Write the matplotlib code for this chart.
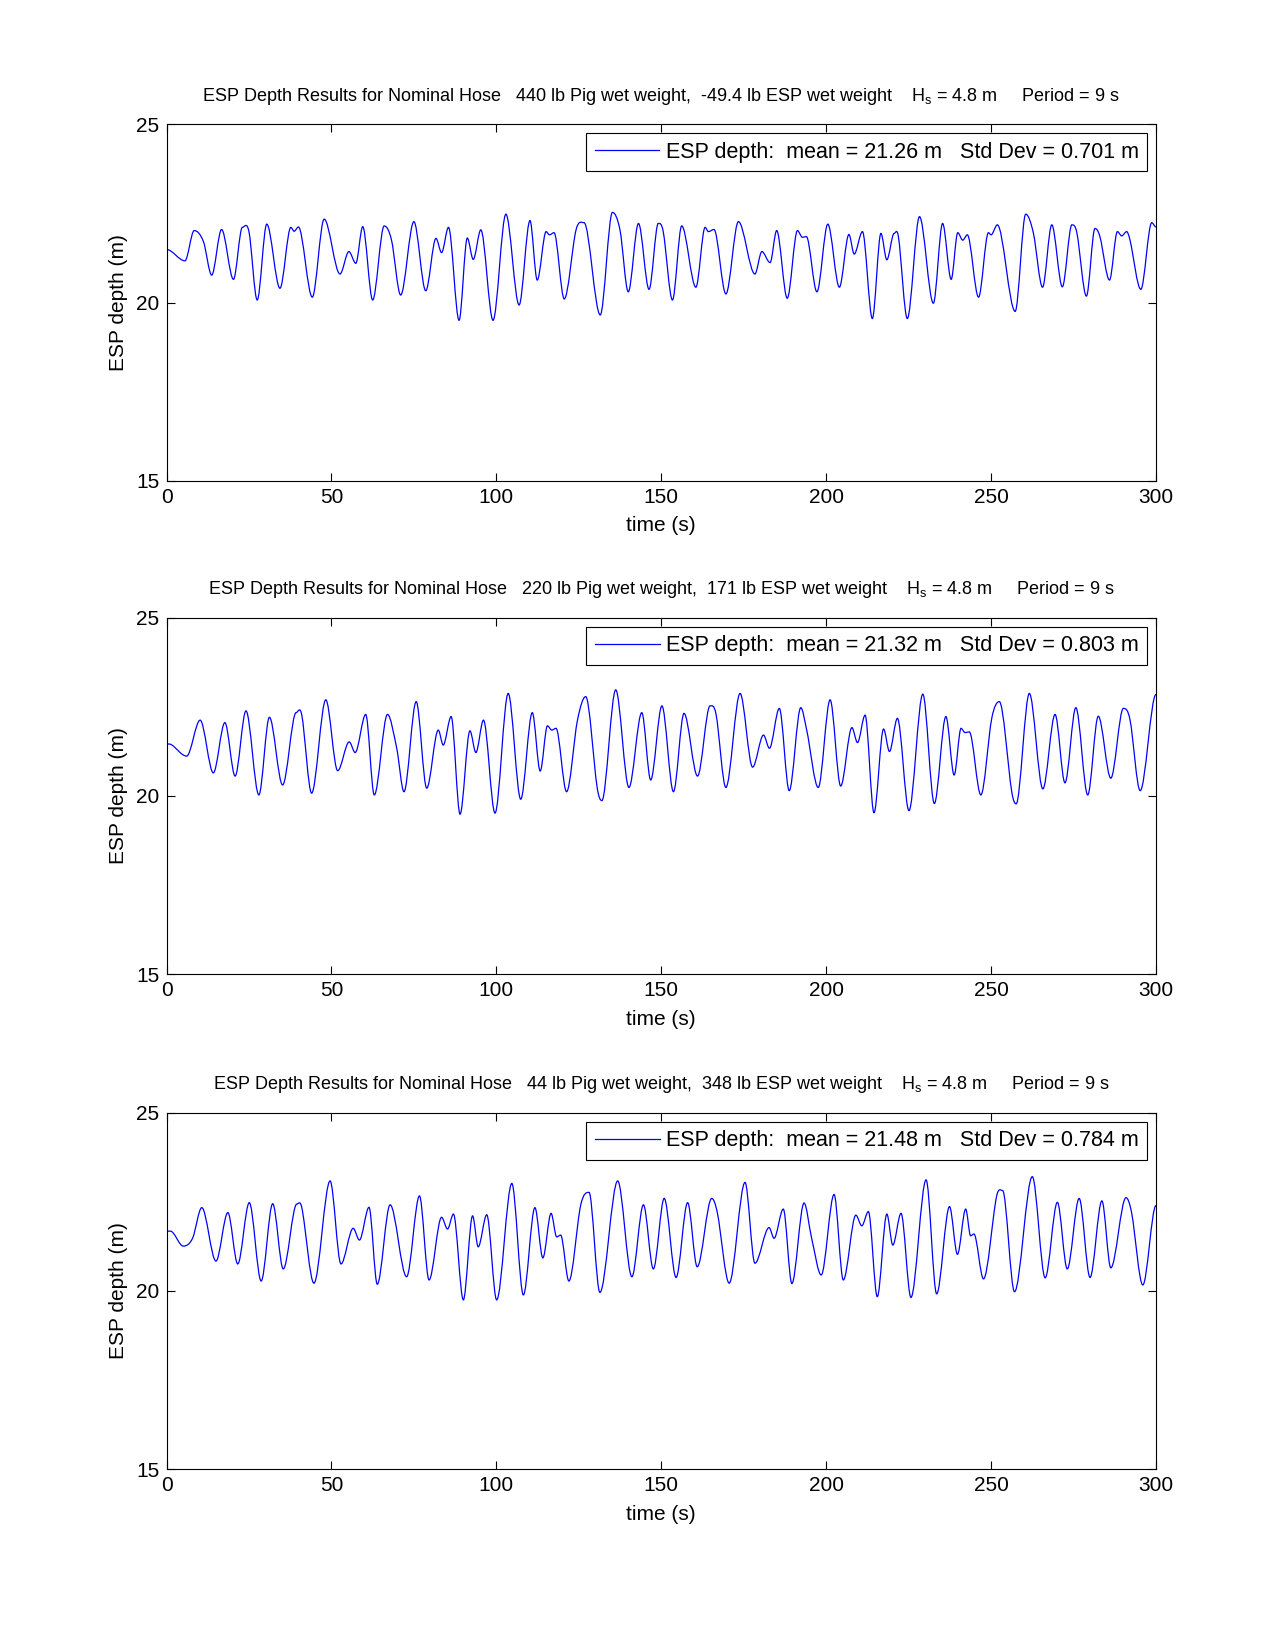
import matplotlib
matplotlib.use("Agg")
import matplotlib.pyplot as plt
import numpy as np
from matplotlib.path import Path
from matplotlib.patches import PathPatch

plt.rcParams['font.family'] = ['Liberation Sans', 'DejaVu Sans']
plt.rcParams['mathtext.default'] = 'regular'

# ---------------- data ----------------
t1 = [0, 5.6, 8.4, 11.2, 13.7, 16.7, 20.3, 23.0, 25.0, 27.5, 30.4, 34.4, 37.7, 38.7, 40.0,
      44.2, 47.8, 52.6, 55.3, 57.4, 59.5, 62.5, 66.0, 68.2, 71.0, 75.0, 78.6, 81.7, 83.4,
      85.5, 88.7, 91.2, 93.0, 95.3, 99.0, 102.9, 106.9, 110.2, 112.4, 115.1, 116.1, 117.5,
      120.6, 124.2, 126.6, 131.5, 135.2, 137.5, 140.0, 143.1, 146.3, 149.1, 150.6, 153.4,
      156.2, 160.5, 163.3, 164.3, 166.0, 169.6, 173.4, 178.4, 180.5, 183.0, 185.0, 188.2,
      191.3, 192.8, 194.0, 197.2, 200.5, 204.0, 206.9, 208.5, 211.0, 214.0, 216.6, 218.4,
      220.6, 221.9, 224.6, 228.3, 232.5, 235.3, 237.9, 239.9, 241.4, 242.8, 246.2, 249.2,
      250.0, 251.9, 257.3, 260.5, 262.8, 265.6, 268.4, 271.6, 274.5, 276.0, 278.9, 281.5,
      283.0, 285.9, 288.3, 289.6, 291.1, 292.1, 295.4, 298.7, 300]
d1 = [21.49, 21.17, 22.02, 21.71, 20.77, 22.05, 20.65, 22.11, 21.99, 20.07, 22.20, 20.40, 22.11, 22.00, 22.12,
      20.15, 22.34, 20.80, 21.43, 21.10, 22.13, 20.07, 22.15, 21.76, 20.21, 22.27, 20.33, 21.80, 21.40,
      22.11, 19.50, 21.81, 21.21, 22.04, 19.50, 22.48, 19.93, 22.30, 20.63, 21.99, 21.90, 21.96,
      20.10, 22.05, 22.24, 19.65, 22.53, 22.03, 20.30, 22.22, 20.37, 22.22, 21.99, 20.07,
      22.15, 20.43, 22.11, 21.99, 22.05, 20.24, 22.27, 20.80, 21.43, 21.12, 22.02, 20.12,
      22.02, 21.83, 21.85, 20.30, 22.20, 20.43, 21.91, 21.36, 21.99, 19.55, 21.94, 21.20,
      21.94, 21.85, 19.55, 22.41, 19.98, 22.22, 20.65, 21.96, 21.75, 21.90, 20.15, 21.96,
      21.90, 22.18, 19.75, 22.48, 21.96, 20.43, 22.18, 20.44, 22.18, 21.96, 20.18, 22.08,
      21.85, 20.63, 21.99, 21.87, 21.99, 21.76, 20.37, 22.24, 22.12]

t2 = [0, 1.5, 6.1, 10.2, 14.2, 17.7, 20.8, 24.1, 28.0, 31.2, 35.2, 39.3, 41.0, 44.0, 48.3,
      51.9, 55.4, 57.2, 60.4, 63.0, 67.0, 69.8, 72.0, 75.7, 78.9, 82.4, 83.9, 86.3, 89.0,
      92.0, 93.8, 96.1, 99.6, 103.6, 107.4, 110.9, 113.3, 115.5, 116.8, 118.1, 121.3, 124.6,
      127.1, 130.6, 132.0, 136.2, 140.2, 144.1, 146.8, 150.2, 153.7, 156.9, 161.0, 164.8,
      166.6, 169.6, 173.9, 177.7, 181.0, 182.8, 185.8, 188.8, 192.3, 194.1, 197.6, 201.2,
      204.4, 207.8, 209.5, 211.8, 214.5, 217.4, 219.2, 221.6, 225.1, 229.3, 232.8, 236.3,
      238.8, 240.9, 242.1, 243.4, 246.9, 250.2, 252.5, 256.3, 257.6, 261.6, 265.7, 269.4,
      272.4, 275.7, 279.3, 282.5, 286.3, 290.1, 292.1, 295.2, 300]
d2 = [21.46, 21.44, 21.12, 22.13, 20.65, 22.06, 20.56, 22.39, 20.03, 22.21, 20.31, 22.34, 22.28, 20.08, 22.70,
      20.71, 21.52, 21.22, 22.29, 20.03, 22.29, 21.34, 20.12, 22.65, 20.22, 21.85, 21.43, 22.23, 19.49,
      21.83, 21.22, 22.13, 19.52, 22.88, 19.91, 22.34, 20.70, 21.97, 21.85, 21.90, 20.12, 22.13,
      22.79, 20.22, 19.87, 22.98, 20.24, 22.34, 20.45, 22.53, 20.12, 22.32, 20.56, 22.53,
      22.30, 20.24, 22.88, 20.81, 21.71, 21.34, 22.46, 20.15, 22.48, 21.85, 20.24, 22.70,
      20.28, 21.92, 21.50, 22.27, 19.53, 21.88, 21.25, 22.18, 19.59, 22.86, 19.79, 22.23,
      20.59, 21.90, 21.78, 21.80, 20.03, 22.18, 22.65, 20.10, 19.78, 22.88, 20.20, 22.29,
      20.37, 22.48, 20.03, 22.24, 20.50, 22.46, 22.15, 20.15, 22.85]

t3 = [0, 1.2, 5.1, 7.9, 10.7, 15.0, 18.6, 21.6, 25.1, 28.7, 32.2, 35.4, 39.5, 41.0, 44.7,
      49.6, 52.9, 56.6, 58.5, 61.4, 63.9, 67.8, 72.8, 76.7, 79.6, 83.4, 85.2, 87.0, 90.0,
      92.8, 94.5, 97.1, 100.1, 104.7, 108.2, 111.7, 114.1, 116.6, 118.3, 119.5, 122.0, 125.6,
      128.1, 131.4, 136.8, 141.1, 144.6, 147.6, 150.9, 154.5, 158.0, 160.9, 165.3, 167.0,
      170.6, 175.4, 178.4, 182.7, 184.2, 187.0, 189.6, 193.3, 195.6, 198.5, 202.4, 205.2,
      209.0, 210.8, 212.8, 215.5, 218.4, 220.2, 222.7, 225.7, 230.3, 233.5, 237.4, 239.8,
      242.3, 243.8, 244.8, 247.7, 251.7, 253.5, 257.1, 262.5, 266.4, 270.1, 273.1, 276.7,
      280.0, 283.6, 286.3, 290.9, 292.6, 296.0, 300]
d3 = [21.68, 21.68, 21.26, 21.48, 22.34, 20.84, 22.20, 20.76, 22.48, 20.28, 22.45, 20.62, 22.44, 22.35, 20.22,
      23.09, 20.76, 21.76, 21.43, 22.35, 20.19, 22.42, 20.40, 22.67, 20.31, 22.07, 21.74, 22.16, 19.75,
      22.11, 21.24, 22.14, 19.75, 23.02, 19.89, 22.34, 20.93, 22.18, 21.52, 21.57, 20.28, 22.42,
      22.77, 19.96, 23.09, 20.40, 22.42, 20.62, 22.60, 20.38, 22.48, 20.68, 22.60, 22.20,
      20.22, 23.05, 20.78, 21.78, 21.48, 22.30, 20.21, 22.47, 21.48, 20.45, 22.71, 20.31,
      22.13, 21.83, 22.23, 19.84, 22.16, 21.29, 22.18, 19.82, 23.12, 19.92, 22.37, 21.03,
      22.30, 21.55, 21.60, 20.34, 22.67, 22.82, 19.98, 23.21, 20.37, 22.49, 20.62, 22.60,
      20.38, 22.53, 20.65, 22.62, 22.20, 20.17, 22.40]

titles = [
    "ESP Depth Results for Nominal Hose   440 lb Pig wet weight,  -49.4 lb ESP wet weight    H$_s$ = 4.8 m     Period = 9 s",
    "ESP Depth Results for Nominal Hose   220 lb Pig wet weight,  171 lb ESP wet weight    H$_s$ = 4.8 m     Period = 9 s",
    "ESP Depth Results for Nominal Hose   44 lb Pig wet weight,  348 lb ESP wet weight    H$_s$ = 4.8 m     Period = 9 s",
]
legend_labels = [
    "ESP depth:  mean = 21.26 m   Std Dev = 0.701 m",
    "ESP depth:  mean = 21.32 m   Std Dev = 0.803 m",
    "ESP depth:  mean = 21.48 m   Std Dev = 0.784 m",
]
x_ticks = [0, 50, 100, 150, 200, 250, 300]
y_ticks = [15, 20, 25]
x_label = "time (s)"
y_label = "ESP depth (m)"


def smooth_path(t, v):
    """Smooth Bezier path through the read points (horizontal tangent at extrema)."""
    t = np.asarray(t, float)
    v = np.asarray(v, float)
    n = len(t)
    m = np.zeros(n)
    for i in range(1, n - 1):
        if (v[i] - v[i - 1]) * (v[i + 1] - v[i]) > 0:
            m[i] = (v[i + 1] - v[i - 1]) / (t[i + 1] - t[i - 1])
    verts = [(t[0], v[0])]
    codes = [Path.MOVETO]
    for i in range(n - 1):
        dt = t[i + 1] - t[i]
        verts += [(t[i] + dt / 3, v[i] + m[i] * dt / 3),
                  (t[i + 1] - dt / 3, v[i + 1] - m[i + 1] * dt / 3),
                  (t[i + 1], v[i + 1])]
        codes += [Path.CURVE4] * 3
    return Path(verts, codes)


fig = plt.figure(figsize=(12.75, 16.5), dpi=100)
W, H = 1275.0, 1650.0
left, right = 166.5, 1156.0
tops = [124.4, 617.9, 1112.9]
ah = 356.2

series = [(t1, d1), (t2, d2), (t3, d3)]
for k, (tt, dd) in enumerate(series):
    ax = fig.add_axes([left / W, 1 - (tops[k] + ah) / H, (right - left) / W, ah / H])
    patch = PathPatch(smooth_path(tt, dd), facecolor='none', edgecolor=(0, 0, 1), lw=0.9)
    ax.add_patch(patch)
    # proxy line for legend
    ax.plot([], [], color=(0, 0, 1), lw=0.9, label=legend_labels[k])
    ax.set_xlim(0, 300)
    ax.set_ylim(15, 25)
    ax.set_xticks(x_ticks)
    ax.set_yticks(y_ticks)
    ax.tick_params(direction='in', top=True, right=True, length=6, width=0.8,
                   labelsize=15, pad=5)
    for s in ax.spines.values():
        s.set_linewidth(0.8)
    ax.set_xlabel(x_label, fontsize=15, labelpad=7)
    ax.set_ylabel(y_label, fontsize=15, labelpad=6)
    ax.set_title(titles[k], fontsize=13, pad=17)
    leg = ax.legend(loc='upper right', fontsize=15.5, frameon=True, fancybox=False,
                    edgecolor='black', framealpha=1, handlelength=3.0,
                    borderaxespad=0.4, borderpad=0.4, handletextpad=0.3)
    leg.get_frame().set_linewidth(0.8)

fig.savefig("out.png", dpi=100)
